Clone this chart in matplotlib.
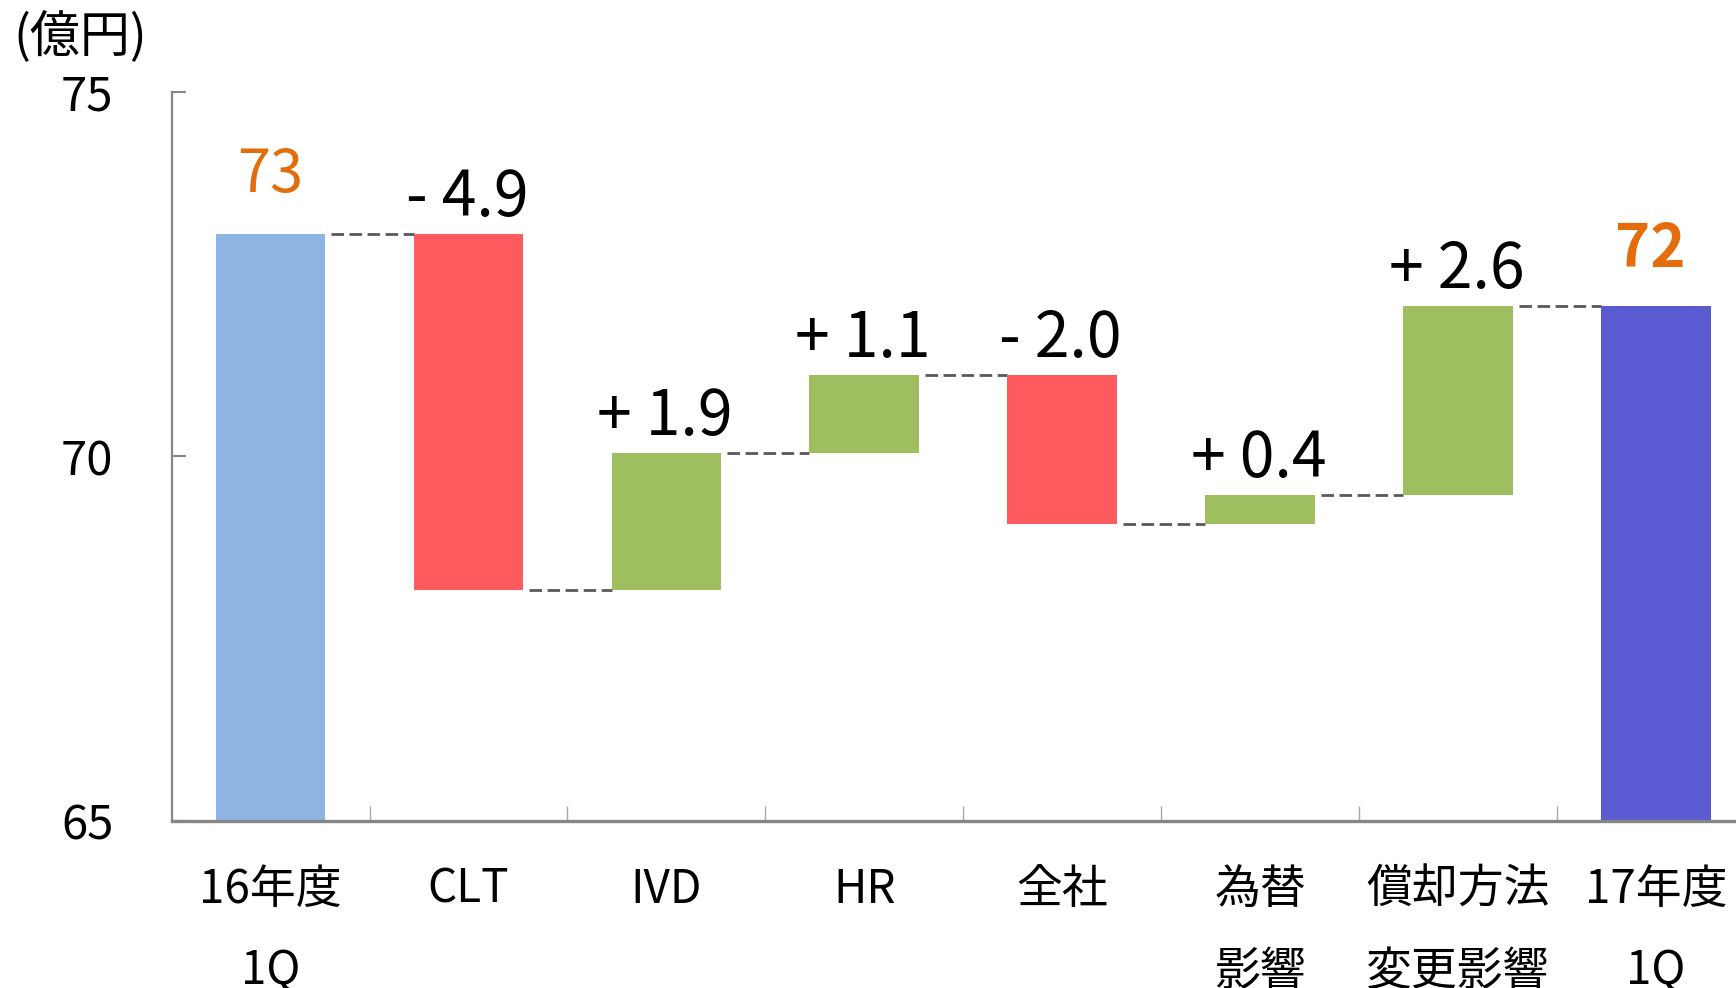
import matplotlib
matplotlib.use("Agg")
import matplotlib.pyplot as plt
import numpy as np

plt.rcParams['font.family'] = ['Noto Sans CJK JP', 'DejaVu Sans']

# data (億円)
categories = ["16年度\n1Q", "CLT", "IVD", "HR", "全社", "為替\n影響", "償却方法\n変更影響", "17年度\n1Q"]
start_value = 73.05
deltas = [-4.89, 1.89, 1.06, -2.04, 0.40, 2.59]
delta_labels = ["- 4.9", "+ 1.9", "+ 1.1", "- 2.0", "+ 0.4", "+ 2.6"]
start_label = "73"
end_label = "72"

c_start = "#8EB4E3"
c_end = "#5A5AD2"
c_up = "#9FBE5F"
c_down = "#FF5B5E"
c_text_orange = "#E46C0A"
c_axis = "#868686"

fig = plt.figure(figsize=(17.36, 9.88), dpi=100)
ax = fig.add_axes([155 / 1568, 151 / 892, 1430 / 1568, 658 / 892])

w = 0.554
x = np.arange(len(categories))
levels = start_value + np.cumsum(deltas)
end_value = levels[-1]

# totals
ax.bar(x[0], start_value, width=w, color=c_start, zorder=2)
ax.bar(x[-1], end_value, width=w, color=c_end, zorder=2)

# changes
prev = start_value
for i, d in enumerate(deltas):
    new = prev + d
    col = c_up if d > 0 else c_down
    ax.bar(x[i + 1], abs(d), bottom=min(prev, new), width=w, color=col, zorder=2)
    ax.annotate(delta_labels[i], (x[i + 1], max(prev, new)), xytext=(-1, 13),
                textcoords="offset points", ha="center", va="baseline",
                fontsize=45, color="black")
    prev = new

# connectors
all_levels = [start_value] + list(levels)
for i in range(len(all_levels)):
    ax.plot([x[i] + w / 2 + 0.03, x[i + 1] - w / 2], [all_levels[i], all_levels[i]],
            color="#595959", lw=2.0, dashes=(4.5, 2), zorder=1)

ax.annotate(start_label, (x[0], start_value), xytext=(0, 30), textcoords="offset points",
            ha="center", va="baseline", fontsize=43, color=c_text_orange)
ax.annotate(end_label, (x[-1], end_value), xytext=(-4, 28), textcoords="offset points",
            ha="center", va="baseline", fontsize=43, color=c_text_orange, fontweight="bold")

ax.set_xlim(-0.5, 7.5)
ax.set_ylim(65, 75)
ax.set_yticks([65, 70, 75])
ax.set_xticks(x)
ax.set_xticklabels(categories)
ax.set_xticks(np.arange(0.5, 7, 1), minor=True)

for s in ["top", "right"]:
    ax.spines[s].set_visible(False)
ax.spines["left"].set_color(c_axis)
ax.spines["left"].set_linewidth(1.6)
ax.spines["bottom"].set_color(c_axis)
ax.spines["bottom"].set_linewidth(2.4)
ax.spines["bottom"].set_zorder(3)

ax.tick_params(axis="y", direction="in", length=10, width=1.5, color=c_axis,
               labelsize=34, pad=42)
ax.tick_params(axis="x", which="major", length=0, labelsize=33, pad=32)
ax.tick_params(axis="x", which="minor", direction="in", length=11, width=1.0, color="#AAAAAA")
for lbl in ax.get_xticklabels():
    lbl.set_linespacing(1.9)

fig.text(13 / 1736, 1 - 37 / 988, "(億円)", ha="left", va="center", fontsize=36)

fig.savefig("out.png", dpi=100)
